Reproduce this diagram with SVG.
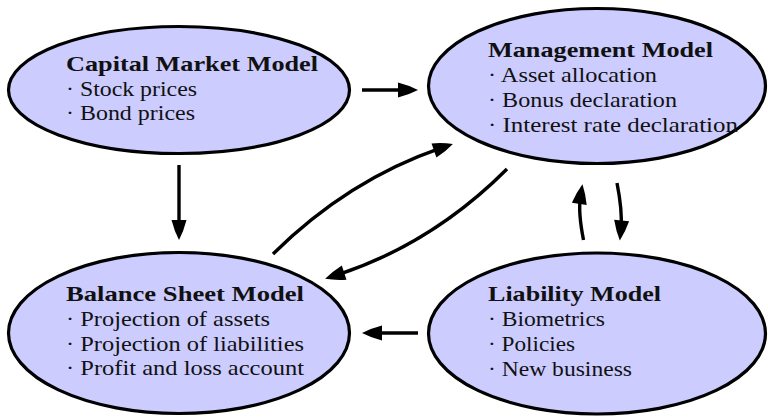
<svg xmlns="http://www.w3.org/2000/svg" width="768" height="418" viewBox="0 0 768 418">
<style>
.node{fill:#ccccff;stroke:#000;stroke-width:3.2}
.t{font-family:"Liberation Serif","Times New Roman",serif;font-size:21px;fill:#111}
.b{font-weight:bold}
.edge{fill:none;stroke:#000;stroke-width:3.4}
</style>
<defs>
<marker id="arr" markerUnits="userSpaceOnUse" markerWidth="22" markerHeight="16" refX="7" refY="7.5" orient="auto" overflow="visible">
<path d="M0,0 Q11,2.8 20,7.5 Q11,12.2 0,15 Z" fill="#000"/>
</marker>
</defs>
<rect width="768" height="418" fill="#fff"/>
<g id="capital-market-model">
<ellipse class="node" cx="179" cy="90" rx="170.5" ry="63.5"/>
<text class="t b" x="66" y="71" textLength="252" lengthAdjust="spacingAndGlyphs">Capital Market Model</text>
<text class="t" x="66" y="96" textLength="131" lengthAdjust="spacingAndGlyphs">· Stock prices</text>
<text class="t" x="66" y="120" textLength="129" lengthAdjust="spacingAndGlyphs">· Bond prices</text>
</g>
<g id="management-model">
<ellipse class="node" cx="597" cy="86" rx="168.5" ry="77.5"/>
<text class="t b" x="488" y="57" textLength="225" lengthAdjust="spacingAndGlyphs">Management Model</text>
<text class="t" x="488" y="82" textLength="169" lengthAdjust="spacingAndGlyphs">· Asset allocation</text>
<text class="t" x="488" y="107" textLength="189" lengthAdjust="spacingAndGlyphs">· Bonus declaration</text>
<text class="t" x="488" y="132" textLength="250" lengthAdjust="spacingAndGlyphs">· Interest rate declaration</text>
</g>
<g id="balance-sheet-model">
<ellipse class="node" cx="179" cy="333" rx="170.5" ry="80.5"/>
<text class="t b" x="66" y="301" textLength="238" lengthAdjust="spacingAndGlyphs">Balance Sheet Model</text>
<text class="t" x="66" y="326" textLength="204" lengthAdjust="spacingAndGlyphs">· Projection of assets</text>
<text class="t" x="66" y="351" textLength="238" lengthAdjust="spacingAndGlyphs">· Projection of liabilities</text>
<text class="t" x="66" y="375" textLength="238" lengthAdjust="spacingAndGlyphs">· Profit and loss account</text>
</g>
<g id="liability-model">
<ellipse class="node" cx="597" cy="333.5" rx="168.5" ry="80.5"/>
<text class="t b" x="488" y="301" textLength="173" lengthAdjust="spacingAndGlyphs">Liability Model</text>
<text class="t" x="488" y="326" textLength="117" lengthAdjust="spacingAndGlyphs">· Biometrics</text>
<text class="t" x="488" y="351" textLength="87" lengthAdjust="spacingAndGlyphs">· Policies</text>
<text class="t" x="488" y="376" textLength="144" lengthAdjust="spacingAndGlyphs">· New business</text>
</g>
<g id="connectors">
<path class="edge" marker-end="url(#arr)" d="M362,90 L405,90"/>
<path class="edge" marker-end="url(#arr)" d="M179,165 L179,227"/>
<path class="edge" marker-end="url(#arr)" d="M273,254 Q348,180 440.6,148.2"/>
<path class="edge" marker-end="url(#arr)" d="M507,169 Q432,244 337.5,274.8"/>
<path class="edge" marker-end="url(#arr)" d="M583.5,240 Q578,212 580.4,197"/>
<path class="edge" marker-end="url(#arr)" d="M617,183 Q622.5,211 621,227.5"/>
<path class="edge" marker-end="url(#arr)" d="M418,333 L375,333"/>
</g>
</svg>
